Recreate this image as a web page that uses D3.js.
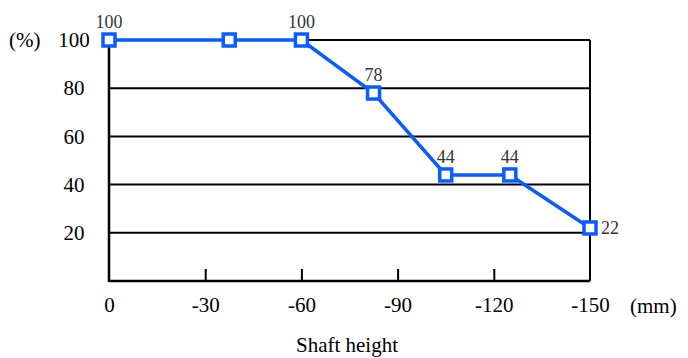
<!DOCTYPE html>
<html><head><meta charset="utf-8">
<script src="https://cdn.jsdelivr.net/npm/d3@7"></script>
<style>body{margin:0;background:#fff}svg{display:block}</style>
</head><body><svg id="c" width="688" height="358" font-family="'Liberation Serif', 'Times New Roman', serif"></svg>
<script>
const heights = [0, -37.5, -60, -82.5, -105, -125, -150];
const values = [100, 100, 100, 78, 44, 44, 22];
const labelPos = ["top", null, "top", "top", "top", "top", "right"];
const xTicks = [0, -30, -60, -90, -120, -150];
const yTicks = [20, 40, 60, 80, 100];

const FF = "Liberation Serif";
const FS = 21;
const svg = d3.select("#c");
const x = d3.scaleLinear().domain([0, -150]).range([109, 590]);
const y = d3.scaleLinear().domain([0, 100]).range([281, 40]);
const blue = "#0a5cff";

svg.append("g").selectAll("line").data(yTicks).join("line")
  .attr("x1", x(0)).attr("x2", x(-150)).attr("y1", d => y(d)).attr("y2", d => y(d))
  .attr("stroke", "#000").attr("stroke-width", 2);
svg.append("line").attr("x1", x(-150)).attr("x2", x(-150)).attr("y1", y(100)).attr("y2", y(0))
  .attr("stroke", "#000").attr("stroke-width", 2);

const xa = svg.append("g").attr("transform", `translate(0,${y(0)})`)
  .call(d3.axisBottom(x).tickValues(xTicks).tickSize(-12).tickPadding(16).tickFormat(d3.format("d")));
xa.attr("font-family", FF).attr("font-size", FS);
xa.select(".domain").attr("stroke-width", 2.5).attr("d", `M${x(0)},0H${x(-150)}`);
xa.selectAll(".tick line").attr("stroke-width", 2).filter(d => d === 0 || d === -150).remove();
xa.selectAll(".tick text").attr("font-family", FF).attr("font-size", FS).attr("fill", "#000")
  .text(d => String(d).replace("\u2212", "-"));

const ya = svg.append("g").attr("transform", `translate(${x(0)},0)`)
  .call(d3.axisLeft(y).tickValues(yTicks).tickSize(0).tickPadding(0).tickFormat(d3.format("d")));
ya.attr("font-family", FF).attr("font-size", FS);
ya.select(".domain").attr("stroke-width", 2.5).attr("d", `M0,${y(100)}V${y(0)+1}`);
ya.selectAll(".tick text").attr("font-family", FF).attr("font-size", FS).attr("fill", "#000")
  .attr("x", 74 - x(0)).attr("text-anchor", "middle");

svg.append("text").attr("x", 9).attr("y", y(100)).attr("dy", "0.32em").attr("font-family", FF).attr("font-size", FS).text("(%)");
svg.append("text").attr("x", 630).attr("y", 313).attr("font-family", FF).attr("font-size", FS).text("(mm)");
svg.append("text").attr("x", 347).attr("y", 352).attr("text-anchor", "middle").attr("font-family", FF).attr("font-size", FS).text("Shaft height");

const pts = heights.map((h, i) => ({h, v: values[i], p: labelPos[i]}));
svg.append("path").datum(pts)
  .attr("d", d3.line().x(d => x(d.h)).y(d => y(d.v)))
  .attr("fill", "none").attr("stroke", blue).attr("stroke-width", 3.5);

svg.append("g").selectAll("rect").data(pts).join("rect")
  .attr("x", d => x(d.h) - 6).attr("y", d => y(d.v) - 6).attr("width", 12).attr("height", 12)
  .attr("fill", "#fff").attr("stroke", blue).attr("stroke-width", 3.5);

svg.append("g").selectAll("text").data(pts.filter(d => d.p)).join("text")
  .attr("x", d => d.p === "right" ? x(d.h) + 11 : x(d.h))
  .attr("y", d => d.p === "right" ? y(d.v) : y(d.v) - 12)
  .attr("dy", d => d.p === "right" ? "0.35em" : 0)
  .attr("text-anchor", d => d.p === "right" ? "start" : "middle")
  .attr("font-family", FF).attr("font-size", 18).attr("fill", "#333").text(d => d.v);
</script></body></html>
